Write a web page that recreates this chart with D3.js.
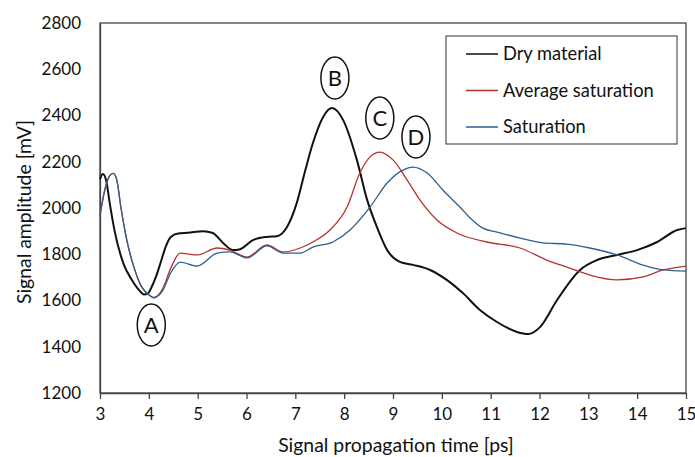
<!DOCTYPE html>
<html>
<head>
<meta charset="utf-8">
<script src="https://cdn.jsdelivr.net/npm/d3@7"></script>
<style>
  body { margin: 0; background: #fff; }
  text { font-family: Lato, "Open Sans", sans-serif; fill: #111; }
</style>
</head>
<body>
<div id="chart"></div>
<script>
// values
const dryTime = [3.0,3.06,3.13,3.2,3.3,3.49,3.65,3.8,3.9,3.97,4.05,4.15,4.25,4.35,4.45,4.6,4.8,5.11,5.31,5.52,5.72,5.87,6.14,6.42,6.62,6.83,7.03,7.2,7.36,7.57,7.75,7.98,8.26,8.47,8.67,8.88,9.14,9.41,9.76,10.1,10.43,10.78,11.13,11.54,11.77,12.01,12.36,12.83,13.18,13.59,14.0,14.41,14.82,15]
const dryAmp  = [2125,2147,2115,2020,1900,1754,1690,1645,1626,1628,1655,1705,1770,1835,1875,1890,1893,1900,1892,1849,1818,1822,1862,1875,1878,1918,2022,2160,2281,2394,2432,2380,2208,2035,1918,1818,1767,1754,1732,1689,1632,1559,1507,1464,1455,1485,1602,1732,1775,1797,1818,1853,1905,1913]

const avgTime = [3.0,3.1,3.2,3.27,3.34,3.43,3.55,3.68,3.85,4.0,4.1,4.2,4.29,4.45,4.64,4.99,5.4,5.66,6.01,6.42,6.75,7.1,7.36,7.71,8.06,8.32,8.53,8.73,9.0,9.29,9.55,9.9,10.31,10.92,11.6,12.15,12.62,13.03,13.59,14.12,14.53,15]
const avgAmp  = [1968,2080,2140,2150,2125,2000,1860,1754,1660,1625,1612,1625,1654,1740,1805,1797,1827,1818,1788,1840,1810,1827,1853,1905,2004,2151,2221,2242,2208,2121,2035,1948,1892,1853,1827,1775,1740,1710,1689,1702,1732,1749]

const satTime = [3.0,3.1,3.2,3.27,3.34,3.43,3.55,3.68,3.85,4.0,4.1,4.2,4.29,4.45,4.64,4.99,5.4,5.66,6.01,6.42,6.75,7.1,7.36,7.77,8.12,8.53,8.88,9.2,9.41,9.7,10.02,10.37,10.58,10.84,11.13,11.6,12.07,12.56,13.03,13.59,14.12,14.53,15]
const satAmp  = [1968,2080,2140,2150,2125,2000,1860,1754,1660,1625,1612,1622,1645,1720,1766,1749,1805,1810,1784,1836,1805,1805,1831,1853,1905,2004,2108,2164,2177,2151,2078,2004,1957,1913,1896,1870,1849,1844,1827,1797,1753,1732,1727]

const seriesNames = ["Dry material", "Average saturation", "Saturation"]
const xTicks = [3,4,5,6,7,8,9,10,11,12,13,14,15]
const yTicks = [1200,1400,1600,1800,2000,2200,2400,2600,2800]

// peak labels: letter, time, amplitude of the bubble centre
const labelText = ["A", "B", "C", "D"]
const labelTime = [4.05, 7.81, 8.73, 9.47]
const labelAmp  = [1494, 2562, 2389, 2307]

const width = 695, height = 457
const margin = {top: 23, right: 9, bottom: 64, left: 100}
const colors = ["#111111", "#b8322c", "#2b6190"]
const widths = [2, 1.3, 1.3]

let svg = d3.select("#chart").append("svg")
  .attr("width", width)
  .attr("height", height)

let x = d3.scaleLinear().domain([3, 15]).range([margin.left, width - margin.right])
let y = d3.scaleLinear().domain([1200, 2800]).range([height - margin.bottom, margin.top])

// frame
svg.append("rect")
  .attr("x", x(3)).attr("y", y(2800))
  .attr("width", x(15) - x(3)).attr("height", y(1200) - y(2800))
  .attr("fill", "none").attr("stroke", "#444").attr("stroke-width", 1.3)

let xAxis = svg.append("g")
  .attr("transform", `translate(0,${y(1200)})`)
  .call(d3.axisBottom(x).tickValues(xTicks).tickFormat(d3.format("d")).tickSize(6).tickSizeOuter(0).tickPadding(9))
xAxis.select(".domain").attr("stroke", "#444").attr("stroke-width", 1.3)
xAxis.selectAll(".tick line").attr("stroke", "#444").attr("stroke-width", 1.3)
xAxis.selectAll("text").style("font-size", "17px").attr("fill", "#111").style("font-family", "Lato, sans-serif")

let yAxis = svg.append("g")
  .attr("transform", `translate(${x(3)},0)`)
  .call(d3.axisLeft(y).tickValues(yTicks).tickFormat(d3.format("d")).tickSize(0).tickPadding(19))
yAxis.select(".domain").attr("stroke", "#444").attr("stroke-width", 1.3)
yAxis.selectAll("text").style("font-size", "17px").attr("fill", "#111").style("font-family", "Lato, sans-serif")

// axis titles
svg.append("text")
  .attr("x", 396)
  .attr("y", 445)
  .attr("dy", "0.35em")
  .attr("text-anchor", "middle")
  .style("font-size", "19.4px")
  .text("Signal propagation time [ps]")

svg.append("text")
  .attr("transform", `translate(24,212) rotate(-90)`)
  .attr("dy", "0.35em")
  .attr("text-anchor", "middle")
  .style("font-size", "19.4px")
  .text("Signal amplitude [mV]")

// curves
let line = d3.line()
  .x(d => x(d[0]))
  .y(d => y(d[1]))
  .curve(d3.curveMonotoneX)

const series = [
  d3.zip(dryTime, dryAmp),
  d3.zip(avgTime, avgAmp),
  d3.zip(satTime, satAmp)
]

svg.selectAll(".curve")
  .data(series)
  .enter()
  .append("path")
  .attr("class", "curve")
  .attr("d", line)
  .attr("fill", "none")
  .attr("stroke", (d, i) => colors[i])
  .attr("stroke-width", (d, i) => widths[i])
  .attr("stroke-linejoin", "round")

// bubbles
let bubbles = svg.selectAll(".bubble")
  .data(labelText)
  .enter()
  .append("g")
  .attr("class", "bubble")
  .attr("transform", (d, i) => `translate(${x(labelTime[i])},${y(labelAmp[i])})`)

bubbles.append("ellipse")
  .attr("rx", 14).attr("ry", 21)
  .attr("fill", "#fff").attr("stroke", "#111").attr("stroke-width", 1.5)

bubbles.append("text")
  .attr("text-anchor", "middle")
  .attr("dy", "0.36em")
  .style("font-size", "22px")
  .text(d => d)

// legend
let legend = svg.append("g")
legend.append("rect")
  .attr("x", 446).attr("y", 36).attr("width", 231).attr("height", 108)
  .attr("fill", "#fff").attr("stroke", "#333").attr("stroke-width", 1)

let rows = legend.selectAll(".row")
  .data(seriesNames)
  .enter()
  .append("g")
  .attr("class", "row")
  .attr("transform", (d, i) => `translate(466,${54 + i * 36.5})`)

rows.append("line")
  .attr("x1", 0).attr("x2", 32)
  .attr("stroke", (d, i) => colors[i])
  .attr("stroke-width", 1.5)

rows.append("text")
  .attr("x", 37)
  .attr("dy", "0.35em")
  .style("font-size", "18.3px")
  .text(d => d)
</script>
</body>
</html>
